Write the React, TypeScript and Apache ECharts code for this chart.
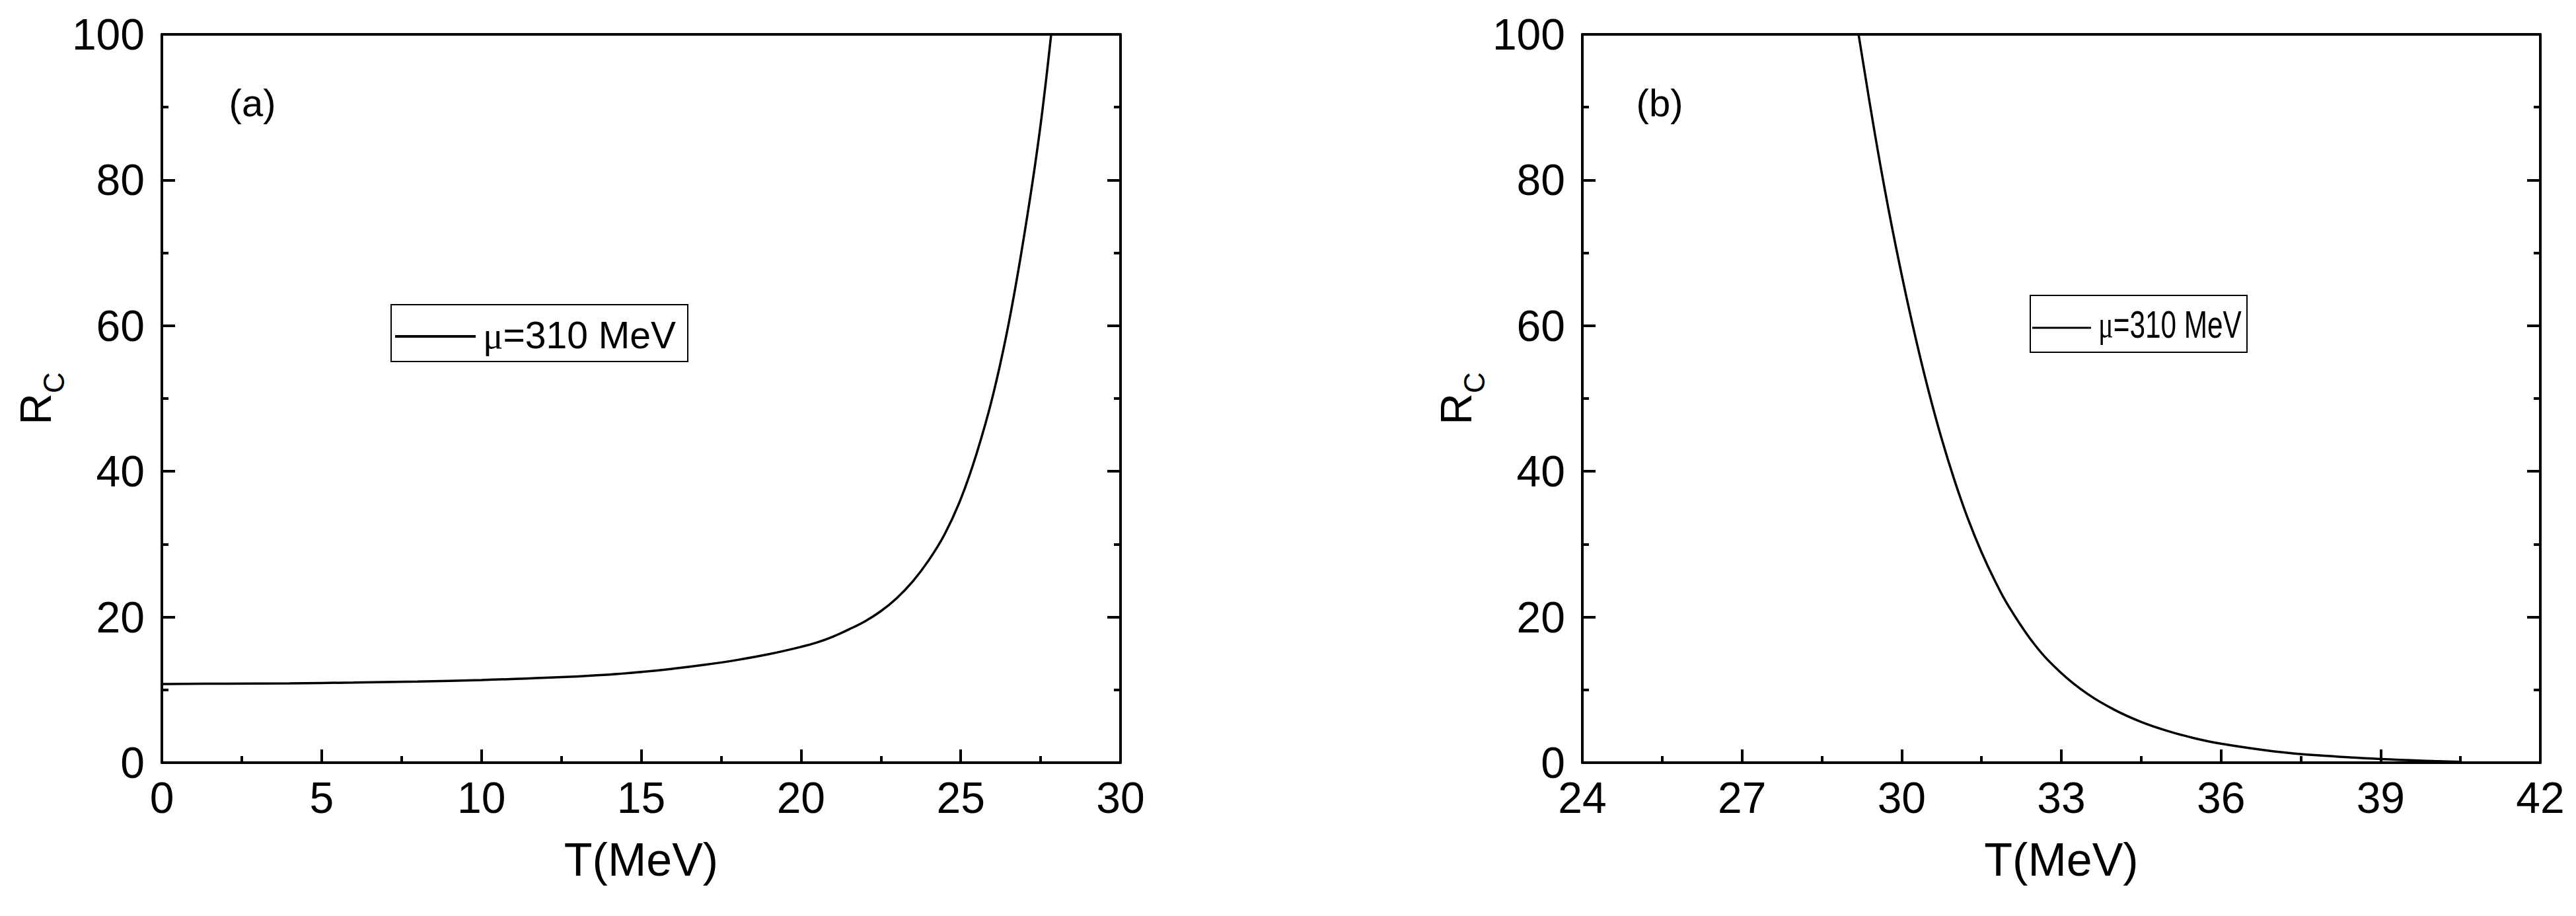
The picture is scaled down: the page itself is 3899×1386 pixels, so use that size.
import React, { useEffect, useRef } from "react";
import * as echarts from "echarts";

// ---- data ----
const seriesName = "μ=310 MeV";
const panelLabels = ["(a)", "(b)"];
const xTitle = "T(MeV)";

const leftT = [0, 2, 4, 6, 8, 10, 12, 14, 15, 16, 17, 18, 19, 20, 20.5, 21, 21.5, 22, 22.5, 23, 23.5, 24, 24.5, 25, 25.5, 26, 26.5, 27, 27.46, 27.83];
const leftR = [10.8, 10.85, 10.9, 11.0, 11.15, 11.35, 11.65, 12.1, 12.45, 12.9, 13.45, 14.1, 14.9, 15.9, 16.5, 17.3, 18.3, 19.4, 20.8, 22.6, 24.9, 27.8, 31.4, 36.2, 42.5, 50.3, 60.3, 72.8, 86.3, 100];

const rightT = [29.19, 29.5, 29.75, 30.0, 30.25, 30.5, 30.75, 31.0, 31.25, 31.5, 31.75, 32.0, 32.5, 33.0, 33.5, 34.0, 34.5, 35.0, 35.5, 36.0, 37.0, 38.0, 39.0, 40.0, 40.5];
const rightR = [100, 86.2, 76.1, 67.0, 58.7, 51.2, 44.5, 38.6, 33.4, 28.9, 25.0, 21.6, 16.2, 12.3, 9.4, 7.25, 5.6, 4.35, 3.36, 2.6, 1.55, 0.92, 0.5, 0.22, 0.12];

const leftXRange = [0, 30, 5];
const rightXRange = [24, 42, 3];
const yRange = [0, 100, 20];

const FONT = "'Liberation Sans', Arial, sans-serif";
const SERIF = "'Liberation Serif', 'Times New Roman', serif";

function pairs(xs: number[], ys: number[]) {
  return xs.map((x, i) => [x, ys[i]]);
}

function bottomX(grid: number, r: number[]) {
  return {
    type: "value",
    gridIndex: grid,
    position: "bottom",
    min: r[0],
    max: r[1],
    interval: r[2],
    axisLine: { show: true, onZero: false, lineStyle: { color: "#000", width: 4 } },
    axisTick: { show: true, inside: true, length: 20, lineStyle: { color: "#000", width: 4 } },
    minorTick: { show: true, splitNumber: 2, length: 10, lineStyle: { color: "#000", width: 4 } },
    axisLabel: { show: true, color: "#000", fontSize: 66, fontFamily: FONT, margin: 20 },
    splitLine: { show: false },
    minorSplitLine: { show: false },
    name: xTitle,
    nameLocation: "middle",
    nameGap: 112,
    nameTextStyle: { color: "#000", fontSize: 70, fontFamily: FONT },
  };
}

function topX(grid: number, r: number[]) {
  return {
    type: "value",
    gridIndex: grid,
    position: "top",
    min: r[0],
    max: r[1],
    interval: r[2],
    axisLine: { show: true, onZero: false, lineStyle: { color: "#000", width: 4 } },
    axisTick: { show: false },
    minorTick: { show: false },
    axisLabel: { show: false },
    splitLine: { show: false },
  };
}

function leftY(grid: number) {
  return {
    type: "value",
    gridIndex: grid,
    position: "left",
    min: yRange[0],
    max: yRange[1],
    interval: yRange[2],
    axisLine: { show: true, onZero: false, lineStyle: { color: "#000", width: 4 } },
    axisTick: { show: true, inside: true, length: 20, lineStyle: { color: "#000", width: 4 } },
    minorTick: { show: true, splitNumber: 2, length: 10, lineStyle: { color: "#000", width: 4 } },
    axisLabel: { show: true, color: "#000", fontSize: 66, fontFamily: FONT, margin: 26 },
    splitLine: { show: false },
    minorSplitLine: { show: false },
    name: "{r|R}{s|C}",
    nameLocation: "middle",
    nameGap: 158,
    nameTextStyle: {
      color: "#000",
      fontFamily: FONT,
      rich: {
        r: { fontSize: 66, lineHeight: 66, verticalAlign: "top", fontFamily: FONT, color: "#000" },
        s: { fontSize: 44, lineHeight: 44, padding: [38, 0, 0, 0], verticalAlign: "top", fontFamily: FONT, color: "#000" },
      },
    },
  };
}

function rightY(grid: number) {
  return {
    type: "value",
    gridIndex: grid,
    position: "right",
    min: yRange[0],
    max: yRange[1],
    interval: yRange[2],
    axisLine: { show: true, onZero: false, lineStyle: { color: "#000", width: 4 } },
    axisTick: { show: true, inside: true, length: 20, lineStyle: { color: "#000", width: 4 } },
    minorTick: { show: true, splitNumber: 2, length: 10, lineStyle: { color: "#000", width: 4 } },
    axisLabel: { show: false },
    splitLine: { show: false },
    minorSplitLine: { show: false },
  };
}

function legendBox(box: number[], line: number[], lineW: number, textX: number, textY: number, fontSize: number, scaleX: number) {
  return {
    type: "group",
    children: [
      {
        type: "rect",
        shape: { x: box[0], y: box[1], width: box[2], height: box[3] },
        style: { fill: "#fff", stroke: "#000", lineWidth: 2 },
        z: 10,
      },
      {
        type: "line",
        shape: { x1: line[0], y1: line[1], x2: line[2], y2: line[1] },
        style: { stroke: "#000", lineWidth: lineW },
        z: 11,
      },
      {
        type: "text",
        x: textX,
        y: textY,
        scaleX: scaleX,
        z: 11,
        style: {
          text: "{mu|μ}=310 MeV",
          fill: "#000",
          fontSize: fontSize,
          fontFamily: FONT,
          align: "left",
          verticalAlign: "middle",
          rich: {
            mu: { fontSize: fontSize, fontFamily: SERIF, fill: "#000" },
          },
        },
      },
    ],
  };
}

export default function App() {
  const ref = useRef<HTMLDivElement>(null);
  useEffect(() => {
    if (!ref.current) return;
    const chart = echarts.init(ref.current, null, { renderer: "svg" });
    const option = {
      animation: false,
      backgroundColor: "#fff",
      grid: [
        { left: 245, top: 52, width: 1451, height: 1102, containLabel: false, outerBoundsMode: "none" },
        { left: 2395, top: 52, width: 1450, height: 1102, containLabel: false, outerBoundsMode: "none" },
      ],
      xAxis: [bottomX(0, leftXRange), topX(0, leftXRange), bottomX(1, rightXRange), topX(1, rightXRange)],
      yAxis: [leftY(0), rightY(0), leftY(1), rightY(1)],
      series: [
        {
          name: seriesName,
          type: "line",
          xAxisIndex: 0,
          yAxisIndex: 0,
          data: pairs(leftT, leftR),
          showSymbol: false,
          symbol: "none",
          smooth: 0.4,
          lineStyle: { color: "#000", width: 3.5 },
          itemStyle: { color: "#000" },
        },
        {
          name: seriesName,
          type: "line",
          xAxisIndex: 2,
          yAxisIndex: 2,
          data: pairs(rightT, rightR),
          showSymbol: false,
          symbol: "none",
          smooth: 0.4,
          lineStyle: { color: "#000", width: 3.5 },
          itemStyle: { color: "#000" },
        },
      ],
      graphic: [
        {
          type: "text",
          x: 382,
          y: 155,
          style: { text: panelLabels[0], fill: "#000", fontSize: 58, fontFamily: FONT, align: "center", verticalAlign: "middle" },
        },
        {
          type: "text",
          x: 2512,
          y: 155,
          style: { text: panelLabels[1], fill: "#000", fontSize: 58, fontFamily: FONT, align: "center", verticalAlign: "middle" },
        },
        legendBox([592, 461, 449, 86], [598, 509, 720], 4, 731, 507, 57, 1),
        legendBox([3073, 447, 328, 86], [3076, 496, 3165], 3, 3176, 491, 58, 0.73),
      ],
    };
    chart.setOption(option as any);
    return () => chart.dispose();
  }, []);
  return (
    <div
      ref={ref}
      style={{ position: "absolute", left: 0, top: 0, width: 3899, height: 1386, background: "#fff" }}
    />
  );
}
